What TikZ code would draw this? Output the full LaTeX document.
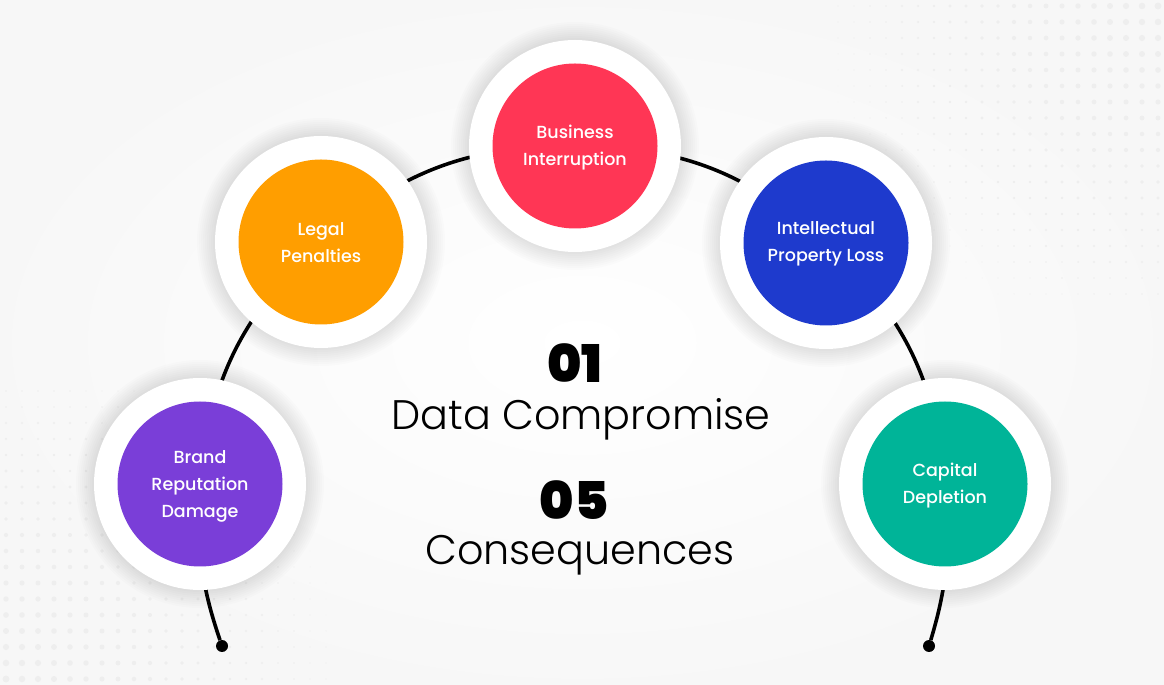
\documentclass[tikz,border=0pt]{standalone}
\usepackage{fontspec}
\setmainfont{Poppins}
\newfontfamily\lightfont{Poppins Light}
\newfontfamily\medfont{Poppins Medium}
\newfontfamily\heavyfont{Poppins Black}
\definecolor{cRed}{RGB}{255,54,85}
\definecolor{cOrange}{RGB}{255,158,0}
\definecolor{cBlue}{RGB}{30,58,205}
\definecolor{cPurple}{RGB}{122,62,216}
\definecolor{cTeal}{RGB}{0,180,152}
\definecolor{dotc}{RGB}{238,238,238}
\tikzset{
  ring/.style={circle, fill=white, minimum size=212pt, inner sep=0pt},
  core/.style={circle, minimum size=165pt, inner sep=0pt},
  lbl/.style={text=white, align=center, font=\medfont\fontsize{17.5}{27}\selectfont},
  link/.style={line width=3.6pt, black},
  enddot/.style={circle, fill=black, minimum size=12pt, inner sep=0pt},
  bignum/.style={font=\heavyfont\fontsize{52}{52}\selectfont, anchor=base},
  bigtext/.style={font=\lightfont\fontsize{41.3}{41}\selectfont, anchor=base},
}
\begin{document}
\begin{tikzpicture}[x=1pt,y=1pt]
\useasboundingbox (0,0) rectangle (1164,685);
\shade[inner color=white, outer color=black!3] (0,0) rectangle (1164,685);
% halftone corners
\foreach \i in {0,...,24}{
  \foreach \j in {0,...,18}{
    \pgfmathsetmacro\rr{max(0,3.4*(1-veclen(\i*0.16,\j*0.16)/3.8))}
    \ifdim\rr pt>0.4pt \fill[dotc] (\i*16+6,\j*16+6) circle (\rr);\fi
    \ifdim\rr pt>0.4pt \fill[dotc] (1158-\i*16,679-\j*16) circle (\rr);\fi
  }}
% centres
\coordinate (pBrand) at (200,201);
\coordinate (pLegal) at (321,443);
\coordinate (pBus) at (575,539);
\coordinate (pIntel) at (826,442);
\coordinate (pCap) at (945,201);
\coordinate (tailL) at (202,114);
\coordinate (tailR) at (946,114);
% shadows
\foreach \p in {pBrand,pLegal,pBus,pIntel,pCap}{
  \foreach \r in {106,108,...,124}{
    \fill[black, opacity=0.011] (\p) circle (\r);
  }}
% connectors
\node[enddot] (dotL) at (222,39) {};
\node[enddot] (dotR) at (929,39) {};
\draw[link] (pBrand) to[bend left=21] (pLegal);
\draw[link] (pLegal) to[bend left=21] (pBus);
\draw[link] (pBus) to[bend left=21] (pIntel);
\draw[link] (pIntel) to[bend left=21] (pCap);
\draw[link] (tailL) to[bend right=4] (dotL);
\draw[link] (tailR) to[bend left=4] (dotR);
% circles
\foreach \p/\n in {pBrand/rBrand,pLegal/rLegal,pBus/rBus,pIntel/rIntel,pCap/rCap}{
  \node[ring] (\n) at (\p) {};
}
\node[core, fill=cPurple] (brand) at (pBrand) {};
\node[core, fill=cOrange] (legal) at (pLegal) {};
\node[core, fill=cRed] (bus) at (pBus) {};
\node[core, fill=cBlue] (intel) at (pIntel) {};
\node[core, fill=cTeal] (cap) at (pCap) {};
\node[lbl] (brandT) at ([yshift=-2]pBrand) {Brand\\Reputation\\Damage};
\node[lbl] (legalT) at ([yshift=-1]pLegal) {Legal\\Penalties};
\node[lbl] (busT) at ([yshift=-2]pBus) {Business\\Interruption};
\node[lbl] (intelT) at ([yshift=-1]pIntel) {Intellectual\\Property Loss};
\node[lbl] (capT) at ([yshift=-2]pCap) {Capital\\Depletion};
% centre text
\node[bignum] (n1) at (575,302) {01};
\node[bigtext] (t1) at (581,255) {Data Compromise};
\node[bignum] (n2) at (574,165) {05};
\node[bigtext] (t2) at (580,120) {Consequences};
\end{tikzpicture}
\end{document}
